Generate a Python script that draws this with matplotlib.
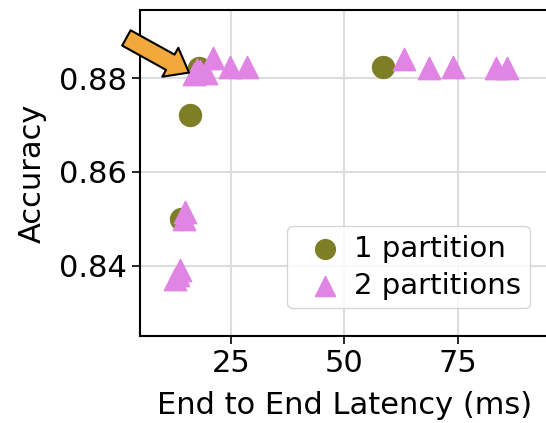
import numpy as np
import matplotlib
matplotlib.use('Agg')
import matplotlib.pyplot as plt

# 1 partition (olive circles)
lat_1p = [18.0, 16.1, 14.0, 58.5]
acc_1p = [0.8821, 0.8721, 0.8500, 0.8823]

# 2 partitions (violet triangles)
lat_2p = [21.1, 24.9, 28.5, 16.8, 18.3, 19.5, 17.5,
          63.2, 68.7, 74.0, 83.5, 85.8,
          14.9, 14.6, 13.8, 13.3, 12.8]
acc_2p = [0.8844, 0.8823, 0.8823, 0.8810, 0.8815, 0.8812, 0.8818,
          0.8841, 0.8821, 0.8823, 0.8822, 0.8822,
          0.8515, 0.8500, 0.8390, 0.8380, 0.8372]

fig = plt.figure(figsize=(5.46, 4.23), dpi=100)
ax = fig.add_axes([0.2564, 0.2057, 0.748, 0.770])

ax.scatter(lat_1p, acc_1p, s=250, marker='o', color='#7e7e26', label='1 partition', zorder=3)
ax.scatter(lat_2p, acc_2p, s=260, marker='^', color='#e085e4', label='2 partitions', zorder=3)

# arrow pointing at the best low latency point
ax.annotate('', xy=(15.8, 0.8812), xytext=(2.0, 0.8886),
            arrowprops=dict(arrowstyle='simple,head_length=1.1,head_width=1.7,tail_width=0.9',
                            mutation_scale=14, fc='#f2a93b', ec='black', lw=1.5,
                            shrinkA=0, shrinkB=0),
            annotation_clip=False, zorder=5)

ax.set_xlim(5, 95)
ax.set_ylim(0.825, 0.8945)
ax.set_xticks([25, 50, 75])
ax.set_yticks([0.84, 0.86, 0.88])
ax.grid(True, color='#dddddd', lw=1.5, zorder=0)
ax.set_axisbelow(True)
ax.tick_params(labelsize=22, length=6, width=1.2)
for sp in ax.spines.values():
    sp.set_linewidth(1.5)

ax.set_xlabel('End to End Latency (ms)', fontsize=22, labelpad=9)
ax.set_ylabel('Accuracy', fontsize=22, labelpad=9)
ax.legend(loc='lower right', fontsize=21, handletextpad=0.0, borderpad=0.3,
          labelspacing=0.3, markerscale=0.9, bbox_to_anchor=(0.99, 0.04))

fig.savefig('out.png', dpi=100)
